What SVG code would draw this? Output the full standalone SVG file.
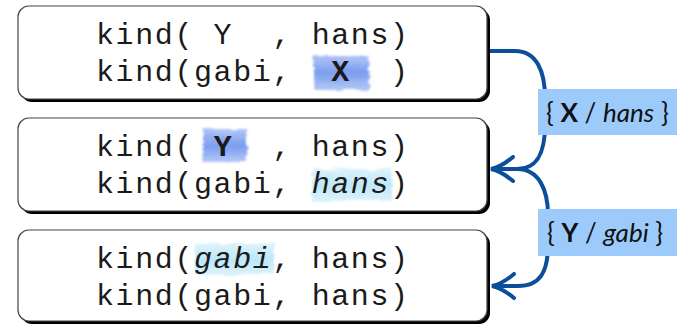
<svg xmlns="http://www.w3.org/2000/svg" width="677" height="325" viewBox="0 0 677 325">
<style>
.shadow{fill:#000}
.box{fill:#fff;stroke:#444;stroke-width:1.2}
.code{font-family:"Liberation Mono","Courier New",monospace;font-size:30px;letter-spacing:1.6px;fill:#1a1a1a}
.b{font-weight:bold}
.i{font-style:italic}
.hl1{fill:url(#g1);filter:url(#rough)}
.hl2{fill:url(#g2);filter:url(#rough)}
.lab{fill:#9ccbfb}
.labt{font-family:"Lato","Open Sans",sans-serif;font-size:26px;fill:#111}
.con{fill:none;stroke:#0b4f9b;stroke-width:4;marker-end:url(#arr)}
</style>
<defs>
<linearGradient id="g1" x1="0" y1="0" x2="0" y2="1">
<stop offset="0" stop-color="#b3c8f6"/>
<stop offset="0.5" stop-color="#7b9cef"/>
<stop offset="1" stop-color="#b3c8f6"/>
</linearGradient>
<linearGradient id="g2" x1="0" y1="0" x2="0" y2="1">
<stop offset="0" stop-color="#dcf3fc"/>
<stop offset="0.5" stop-color="#bde7f9"/>
<stop offset="1" stop-color="#dcf3fc"/>
</linearGradient>
<filter id="rough" x="-10%" y="-20%" width="120%" height="140%">
<feTurbulence type="fractalNoise" baseFrequency="0.05 0.3" numOctaves="2" seed="3" result="n"/>
<feDisplacementMap in="SourceGraphic" in2="n" scale="6" xChannelSelector="R" yChannelSelector="G" result="d"/>
<feGaussianBlur in="d" stdDeviation="0.8"/>
</filter>
<marker id="arr" markerUnits="userSpaceOnUse" viewBox="0 0 28 28" markerWidth="28" markerHeight="28" refX="25" refY="14" orient="auto">
<path d="M3,2 Q15,12 25,14 Q15,16 3,26" fill="none" stroke="#0b4f9b" stroke-width="4" stroke-linecap="round"/>
</marker>
</defs>

<g id="connectors">
<path class="con" d="M488,51 H515 C537,51 545,72 545,98 V125 C545,152 538,169 517,169 H491"/>
<path class="con" d="M491,169 H517 C539,169 548,190 548,215 V245 C548,272 540,286 518,286 H492"/>
</g>

<g id="node1">
<rect class="shadow" x="21" y="9" width="469" height="93" rx="11"/>
<rect class="box" x="18" y="6" width="469" height="93" rx="11"/>
<rect class="hl1" x="314" y="55" width="55" height="35"/>
<text class="code" x="96" y="44" xml:space="preserve">kind( Y  , hans)</text>
<text class="code" x="96" y="81" xml:space="preserve">kind(gabi,  <tspan class="b">X</tspan>  )</text>
</g>

<g id="node2">
<rect class="shadow" x="21" y="121" width="469" height="93" rx="11"/>
<rect class="box" x="18" y="118" width="469" height="93" rx="11"/>
<rect class="hl1" x="203" y="129" width="44" height="33"/>
<rect class="hl2" x="312" y="169" width="80" height="32"/>
<text class="code" x="96" y="156" xml:space="preserve">kind( <tspan class="b">Y</tspan>  , hans)</text>
<text class="code" x="96" y="193" xml:space="preserve">kind(gabi, <tspan class="i">hans</tspan>)</text>
</g>

<g id="node3">
<rect class="shadow" x="21" y="233" width="469" height="91" rx="11"/>
<rect class="box" x="18" y="230" width="469" height="91" rx="11"/>
<rect class="hl2" x="195" y="244" width="79" height="31"/>
<text class="code" x="96" y="268" xml:space="preserve">kind(<tspan class="i">gabi</tspan>, hans)</text>
<text class="code" x="96" y="305" xml:space="preserve">kind(gabi, hans)</text>
</g>

<g id="label1">
<rect class="lab" x="538" y="89" width="139" height="46"/>
<text class="labt" x="546" y="122" xml:space="preserve">{ <tspan font-weight="bold">X</tspan> / <tspan class="i">hans</tspan> }</text>
</g>

<g id="label2">
<rect class="lab" x="538" y="209" width="139" height="47"/>
<text class="labt" x="547" y="242" xml:space="preserve">{ <tspan font-weight="bold">Y</tspan> / <tspan class="i">gabi</tspan> }</text>
</g>
</svg>
